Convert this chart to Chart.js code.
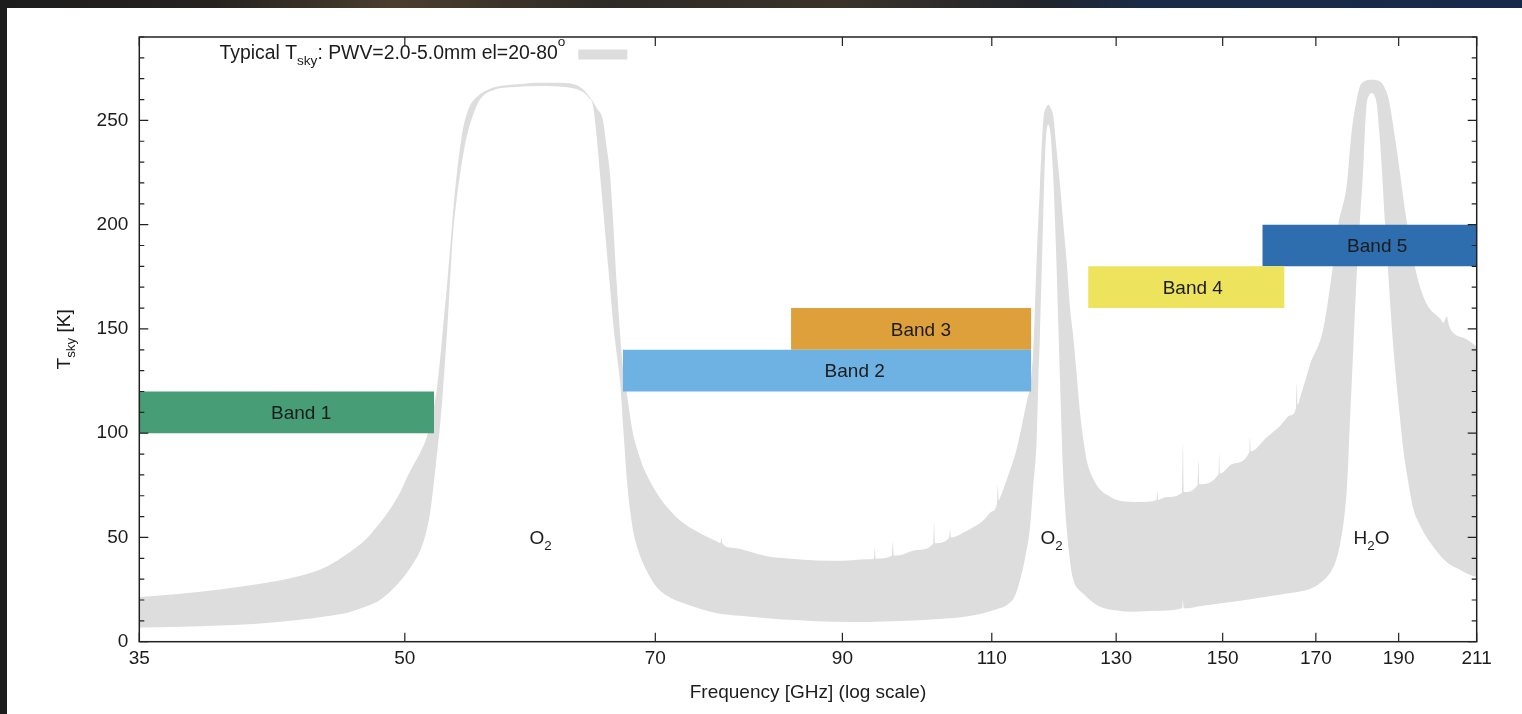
<!DOCTYPE html>
<html><head><meta charset="utf-8">
<script src="https://cdn.jsdelivr.net/npm/chart.js@4.4.1/dist/chart.umd.min.js"></script>
<style>
html,body{margin:0;padding:0;width:1522px;height:714px;overflow:hidden;}
body{background:linear-gradient(90deg,#1d1d1e 0%,#26231f 14%,#4a3e2f 26%,#2e2a25 40%,#3b3329 55%,#22252b 68%,#1a2b46 75%,#152a4b 100%);}
#panel{position:absolute;left:7px;top:8px;right:0;bottom:0;background:#fff;}
#c{position:absolute;left:0;top:0;}
</style></head><body>
<div id="panel"></div>
<canvas id="c" width="1522" height="714"></canvas>
<script>
// ---------------- data ----------------
const xTicks = [35, 50, 70, 90, 110, 130, 150, 170, 190, 211];
const xMin = 35, xMax = 211;
const yMin = 0, yMax = 290, yStep = 10, yLabelEvery = 50;

// Tsky upper envelope (PWV=5mm, el=20) [GHz, K]
const tskyUpper = [
 [35,21.4],[37,23],[39,25],[41,27.5],[43.4,31.5],[45,36],[46.45,43],[47.5,49.5],[48.36,57],
 [49.1,64.5],[49.68,71.5],[50.13,78.5],[50.6,85],[51.03,90.5],[51.49,98],[51.85,108],[52.19,121],
 [52.45,137],[52.65,152],[52.9,170],[53.13,188],[53.36,207],[53.61,224],[53.85,237],[54.09,247],
 [54.33,253],[54.57,257],[55.31,262.5],[56,265],[56.82,266.5],[58.5,267.5],[60,268],[61.5,268],
 [62.67,267.5],[63.5,265],[64.12,261],[64.7,256],[65.25,250],[65.55,238],[65.87,224],[66.16,200],
 [66.46,172],[66.76,148],[67,132],[67.4,118],[67.93,100],[68.27,93],[68.85,84],[69.5,77],[70.3,70],
 [71.1,64.6],[72.65,57],[74.33,52],[76.05,48],[76.4,47.2],[76.5,50],[76.6,47.1],[77.7,45],
 [81.33,41],[84,39.8],[86.98,39],[90,38.8],[93.02,39.5],[93.88,39.7],[94,45],[94.12,39.8],
 [96.18,41.2],[96.3,48],[96.42,41.3],[97.24,41.5],[99.49,44],[101.68,47],[101.8,57],[101.92,47.2],
 [103.88,49.8],[104,54],[104.12,50.1],[106.5,53.5],[108.71,58],[110,62.5],[110.78,66.2],[110.9,75],
 [111.02,67.6],[111.22,69],[112.27,78],[113.79,93],[115.33,115.7],[115.8,122],[116.3,140],
 [116.84,184],[117.36,219],[117.88,250],[118.3,256],[118.68,257.5],[119.05,256],[119.48,252],
 [120,236],[120.56,219],[121.1,200],[121.65,182],[122.19,160],[122.73,146],[123.29,128],
 [123.84,110],[124.39,97],[124.96,87],[126.07,78],[127.21,73],[128.7,70],[130.1,68],[134.24,67],
 [137.25,68],[137.4,72],[137.55,68.1],[139.14,69.4],[142.05,71.6],[142.2,95],[142.35,71.8],
 [145.05,75.2],[145.2,87],[145.35,75.5],[149.15,80.3],[149.3,90],[149.45,80.6],[152.1,85.4],
 [155.45,90.8],[155.6,98],[155.75,91.2],[159.14,98],[162,103.5],[164.2,108.5],[165.5,112],[165.7,124],
 [165.9,113.5],[166.42,117],[167.5,124.5],[168.67,132.8],[171.71,150],[173.66,176],[175.21,200],[177.2,219],
 [178.39,245],[179.59,260],[180.3,266],[181.2,268.5],[183.25,269.5],[185.7,268],[186.6,265],
 [187.38,261],[189.51,236],[192.07,201.7],[194.67,176],[197.3,162],[200.86,155],[201.8,153],
 [202.67,156],[203.4,151],[204.48,148],[208.19,145],[211,141.5]
];

// Tsky lower envelope (PWV=2mm, el=80) [GHz, K]
const tskyLower = [
 [35,6.8],[37,7.2],[39,7.8],[41,8.6],[43.4,10.5],[45,12.2],[46.45,14.3],[47.5,17],[48.36,20],
 [49.1,24.5],[49.68,29],[50.13,33],[50.6,38],[51.03,43.5],[51.4,51],[51.72,61.6],[51.95,74],
 [52.19,89],[52.4,102],[52.6,118],[52.8,137],[52.95,152],[53.15,175],[53.36,197],[53.6,212],
 [53.85,224],[54.09,234],[54.33,242],[54.57,248],[54.82,253],[55.31,260],[56.29,264.5],[58,266],
 [60,266.5],[62,266],[63.4,264],[64,261],[64.38,257],[64.7,242],[64.99,224],[65.3,205],[65.57,188],
 [65.87,170],[66.16,152],[66.46,138],[66.76,125],[67.08,100],[67.39,77],[67.65,64],[67.93,53.5],
 [68.4,44],[68.85,37.7],[69.5,31],[70.16,26],[71.1,22],[72.65,18.5],[74.33,15.8],[76.05,13.7],
 [78.5,12.4],[81.33,11.3],[85,10.3],[88.87,9.6],[93,9.5],[97.24,9.9],[101,10.5],[104,11.2],
 [106.5,12.2],[108.71,13.7],[110.6,15.5],[112.27,17.6],[113.4,21.5],[114.25,29.5],[115.02,40],
 [115.8,55],[116.3,75],[116.84,97],[117.1,125],[117.36,148],[117.6,175],[117.88,205],[118.1,228],
 [118.31,242],[118.68,248],[119.05,243],[119.22,236],[119.48,222],[119.75,202],[120,180],
 [120.28,152],[120.56,125],[120.83,100],[121.05,82],[121.35,66],[121.65,54],[122.05,42],
 [122.47,33],[123,27.5],[123.6,25],[124.39,23],[125.5,20],[127.21,16.8],[130.1,15],[132.98,14.4],
 [137,14.8],[142.05,16],[142.2,20],[142.35,16],[146,17.3],[152.1,19.2],[158,21.2],[164.2,23.3],
 [167.5,24.5],[169.42,26],[171.2,28.5],[173.27,33],[174.5,38],[175.61,46.6],[176.5,58],
 [177.2,72.6],[177.6,88],[177.99,107],[178.39,124],[178.78,141.4],[179.2,160],[179.59,176],
 [180.4,203],[181.19,227.6],[181.6,246],[182.02,258],[182.6,262],[183.25,263],[183.9,262],
 [184.48,258],[185.1,245],[185.73,227.6],[186.5,202],[187.38,176],[188,158],[188.64,141.4],
 [189.5,123],[190.35,107],[191.2,92],[192.07,81],[193.78,63.8],[195.5,56],[197.3,50],
 [199.5,44.5],[201.75,39.7],[204,36.5],[206.33,34.5],[208.5,32.5],[211,31]
];

// receiver bands
const bandNames = ['Band 1', 'Band 2', 'Band 3', 'Band 4', 'Band 5'];
const bandStart = [35, 67, 84, 125.2, 158.2];
const bandEnd   = [52, 116, 116, 163, 211];
const bandLow   = [100, 120, 140, 160, 180];
const bandHigh  = [120, 140, 160, 180, 200];

// absorption line labels
const lineLabelBase = ['O', 'O', 'H'];
const lineLabelSub  = ['2', '2', '2'];
const lineLabelPost = ['', '', 'O'];
const lineLabelFreq = [60, 119.2, 183.2];
const lineLabelT    = [50, 50, 50];

// ---------------- styles ----------------
const bandColors = ['#469d76', '#6db2e2', '#dda03b', '#ede35c', '#2e6eae'];
const FAM = "'Liberation Sans', Arial, Helvetica, sans-serif";
const FS = 19;
const TXT = '#1c1c1c';
const GRAY = '#dddddd';
const fontStr = s => s + 'px ' + FAM;

function richWidth(ctx, parts, size) {
  let w = 0;
  parts.forEach(p => { ctx.font = fontStr((p.sub || p.sup) ? size * 0.7 : size); w += ctx.measureText(p.t).width; });
  return w;
}
function drawRich(ctx, parts, x, y, size, align) {
  const w = richWidth(ctx, parts, size);
  let cx = align === 'center' ? x - w / 2 : (align === 'right' ? x - w : x);
  ctx.textAlign = 'left'; ctx.textBaseline = 'alphabetic';
  parts.forEach(p => {
    const s = (p.sub || p.sup) ? size * 0.7 : size;
    ctx.font = fontStr(s);
    const dy = p.sub ? size * 0.3 : (p.sup ? -size * 0.68 : 0);
    ctx.fillText(p.t, cx, y + dy);
    cx += ctx.measureText(p.t).width;
  });
}

const decor = {
  id: 'decor',
  afterDatasetsDraw(chart) {
    const { ctx, chartArea: a, scales: { x, y } } = chart;
    ctx.save();
    ctx.fillStyle = TXT;
    // band labels
    bandNames.forEach((n, i) => {
      const px = x.getPixelForValue((bandStart[i] + bandEnd[i]) / 2);
      const py = y.getPixelForValue((bandLow[i] + bandHigh[i]) / 2);
      drawRich(ctx, [{ t: n }], px, py + FS * 0.35, FS, 'center');
    });
    // line labels
    lineLabelBase.forEach((b, i) => {
      const px = x.getPixelForValue(lineLabelFreq[i]);
      const py = y.getPixelForValue(lineLabelT[i]);
      const parts = [{ t: b }, { t: lineLabelSub[i], sub: true }];
      if (lineLabelPost[i]) parts.push({ t: lineLabelPost[i] });
      drawRich(ctx, parts, px, py + FS * 0.35, FS, 'center');
    });
    // frame
    ctx.strokeStyle = '#222';
    ctx.lineWidth = 1.5;
    ctx.strokeRect(a.left, a.top, a.right - a.left, a.bottom - a.top);
    // ticks (inward, mirrored)
    ctx.lineWidth = 1.2;
    ctx.beginPath();
    x.ticks.forEach(t => {
      const px = x.getPixelForValue(t.value);
      ctx.moveTo(px, a.bottom); ctx.lineTo(px, a.bottom - 9);
      ctx.moveTo(px, a.top); ctx.lineTo(px, a.top + 9);
    });
    y.ticks.forEach(t => {
      const py = y.getPixelForValue(t.value);
      const len = (t.value % yLabelEvery === 0) ? 9 : 5;
      ctx.moveTo(a.left, py); ctx.lineTo(a.left + len, py);
      ctx.moveTo(a.right, py); ctx.lineTo(a.right - len, py);
    });
    ctx.stroke();
    // legend (key)
    ctx.fillStyle = TXT;
    drawRich(ctx, [{ t: 'Typical T' }, { t: 'sky', sub: true }, { t: ': PWV=2.0-5.0mm el=20-80' }, { t: 'o', sup: true }],
      a.left + 426, a.top + 22, 19.4, 'right');
    ctx.fillStyle = GRAY;
    ctx.fillRect(a.left + 439, a.top + 12.5, 49, 10);
    // axis titles
    ctx.fillStyle = TXT;
    drawRich(ctx, [{ t: 'Frequency [GHz] (log scale)' }], (a.left + a.right) / 2, 691 + FS * 0.35, FS, 'center');
    ctx.save();
    ctx.translate(63, (a.top + a.bottom) / 2);
    ctx.rotate(-Math.PI / 2);
    drawRich(ctx, [{ t: 'T' }, { t: 'sky', sub: true }, { t: ' [K]' }], 0, FS * 0.35, FS, 'center');
    ctx.restore();
    ctx.restore();
  }
};

const lineBase = { borderWidth: 0, borderColor: 'rgba(0,0,0,0)', pointRadius: 0, pointHoverRadius: 0, cubicInterpolationMode: 'monotone' };

const datasets = [
  Object.assign({ label: 'Tsky low', data: tskyLower.map(p => ({ x: p[0], y: p[1] })), fill: false, order: 10 }, lineBase),
  Object.assign({ label: 'Typical Tsky: PWV=2.0-5.0mm el=20-80', data: tskyUpper.map(p => ({ x: p[0], y: p[1] })), fill: '-1', backgroundColor: GRAY, order: 10 }, lineBase)
];
bandNames.forEach((n, i) => {
  datasets.push({
    label: n,
    data: [{ x: bandStart[i], y: bandHigh[i] }, { x: bandEnd[i], y: bandHigh[i] }],
    fill: { value: bandLow[i] },
    backgroundColor: bandColors[i],
    borderWidth: 0, borderColor: 'rgba(0,0,0,0)', pointRadius: 0, pointHoverRadius: 0,
    order: 1
  });
});

new Chart(document.getElementById('c'), {
  type: 'line',
  data: { datasets },
  options: {
    responsive: false,
    animation: false,
    devicePixelRatio: 1,
    layout: { padding: { left: 0, right: 45.3, top: 37, bottom: 0 } },
    plugins: { legend: { display: false }, tooltip: { enabled: false } },
    scales: {
      x: {
        type: 'logarithmic', min: xMin, max: xMax,
        grid: { display: false, drawTicks: false }, border: { display: false },
        afterBuildTicks: s => { s.ticks = xTicks.map(v => ({ value: v })); },
        afterFit: s => { s.height = 72.3; },
        ticks: { font: { family: FAM, size: FS }, color: TXT, padding: 6, maxRotation: 0, autoSkip: false, callback: v => String(v) }
      },
      y: {
        type: 'linear', min: yMin, max: yMax,
        grid: { display: false, drawTicks: false }, border: { display: false },
        afterFit: s => { s.width = 139.3; },
        ticks: { stepSize: yStep, font: { family: FAM, size: FS }, color: TXT, padding: 11, autoSkip: false,
                 callback: v => (v % yLabelEvery === 0 ? String(v) : '') }
      }
    }
  },
  plugins: [decor]
});
</script>
</body></html>
